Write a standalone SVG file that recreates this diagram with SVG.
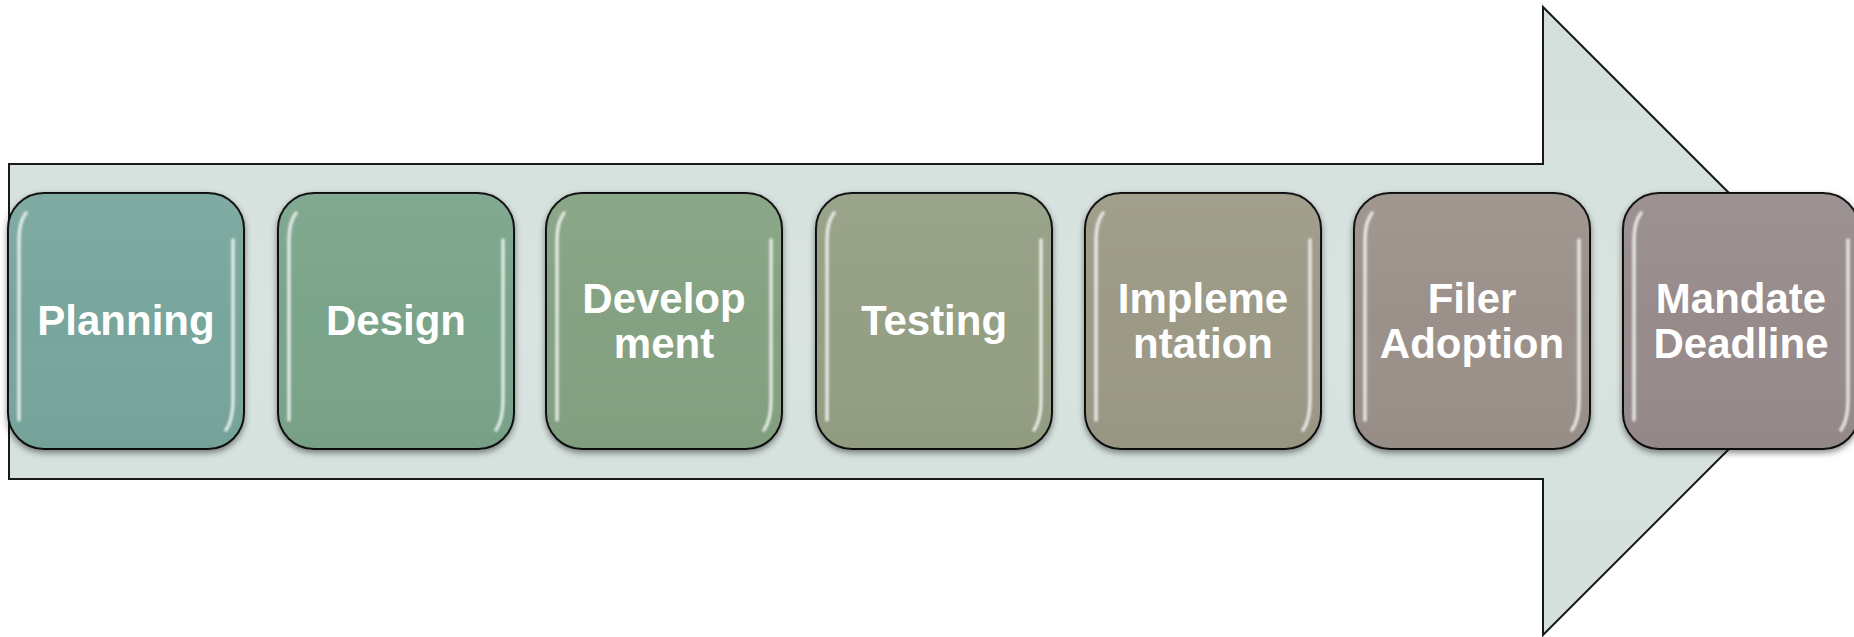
<svg xmlns="http://www.w3.org/2000/svg" width="1854" height="637" viewBox="0 0 1854 637">
  <defs>
    <linearGradient id="arrowFill" x1="0" y1="0" x2="0" y2="1">
      <stop offset="0" stop-color="#d3dfdb"/>
      <stop offset="0.5" stop-color="#d9e4e1"/>
      <stop offset="1" stop-color="#d2dfdb"/>
    </linearGradient>
    <linearGradient id="shade" x1="0" y1="0" x2="0" y2="1">
      <stop offset="0" stop-color="#ffffff" stop-opacity="0.06"/>
      <stop offset="0.5" stop-color="#ffffff" stop-opacity="0"/>
      <stop offset="1" stop-color="#000000" stop-opacity="0.03"/>
    </linearGradient>
    <filter id="drop" x="-10%" y="-10%" width="120%" height="125%">
      <feDropShadow dx="0" dy="3" stdDeviation="3" flood-color="#000" flood-opacity="0.45"/>
    </filter>
    <filter id="soft" x="-50%" y="-10%" width="200%" height="120%">
      <feGaussianBlur stdDeviation="0.8"/>
    </filter>
    <style>
      .box { stroke: #111; stroke-width: 2; filter: url(#drop); }
      .gloss { fill: url(#shade); stroke: none; }
      .hl { fill: none; stroke: #ffffff; stroke-opacity: 0.75; stroke-width: 3.5; stroke-linecap: round; filter: url(#soft); }
      .lbl { font-family: "Liberation Sans", Arial, sans-serif; font-weight: bold; font-size: 42px; fill: #ffffff; text-anchor: middle; }
    </style>
  </defs>

  <rect width="1854" height="637" fill="#ffffff"/>

  <g id="arrow">
    <path d="M9,164 H1543 V7 L1857,321 L1543,635 V479 H9 Z" fill="url(#arrowFill)" stroke="#1a1a1a" stroke-width="2"/>
  </g>

  <g id="connectors"></g>

  <g id="planning">
    <rect class="box" x="8" y="193" width="236" height="256" rx="36" fill="#78a69d"/>
    <rect class="gloss" x="8" y="193" width="236" height="256" rx="36"/>
    <path class="hl" d="M26,213 Q19,222 19,240 V420"/>
    <path class="hl" d="M233,240 V400 Q233,420 226,430"/>
    <text class="lbl" x="126" y="335">Planning</text>
  </g>

  <g id="design">
    <rect class="box" x="278" y="193" width="236" height="256" rx="36" fill="#7aa48a"/>
    <rect class="gloss" x="278" y="193" width="236" height="256" rx="36"/>
    <path class="hl" d="M296,213 Q289,222 289,240 V420"/>
    <path class="hl" d="M503,240 V400 Q503,420 496,430"/>
    <text class="lbl" x="396" y="335">Design</text>
  </g>

  <g id="development">
    <rect class="box" x="546" y="193" width="236" height="256" rx="36" fill="#84a282"/>
    <rect class="gloss" x="546" y="193" width="236" height="256" rx="36"/>
    <path class="hl" d="M564,213 Q557,222 557,240 V420"/>
    <path class="hl" d="M771,240 V400 Q771,420 764,430"/>
    <text class="lbl" x="664" y="313">Develop</text>
    <text class="lbl" x="664" y="358">ment</text>
  </g>

  <g id="testing">
    <rect class="box" x="816" y="193" width="236" height="256" rx="36" fill="#949f84"/>
    <rect class="gloss" x="816" y="193" width="236" height="256" rx="36"/>
    <path class="hl" d="M834,213 Q827,222 827,240 V420"/>
    <path class="hl" d="M1041,240 V400 Q1041,420 1034,430"/>
    <text class="lbl" x="934" y="335">Testing</text>
  </g>

  <g id="implementation">
    <rect class="box" x="1085" y="193" width="236" height="256" rx="36" fill="#9c9a86"/>
    <rect class="gloss" x="1085" y="193" width="236" height="256" rx="36"/>
    <path class="hl" d="M1103,213 Q1096,222 1096,240 V420"/>
    <path class="hl" d="M1310,240 V400 Q1310,420 1303,430"/>
    <text class="lbl" x="1203" y="313">Impleme</text>
    <text class="lbl" x="1203" y="358">ntation</text>
  </g>

  <g id="filer-adoption">
    <rect class="box" x="1354" y="193" width="236" height="256" rx="36" fill="#9b918a"/>
    <rect class="gloss" x="1354" y="193" width="236" height="256" rx="36"/>
    <path class="hl" d="M1372,213 Q1365,222 1365,240 V420"/>
    <path class="hl" d="M1579,240 V400 Q1579,420 1572,430"/>
    <text class="lbl" x="1472" y="313">Filer</text>
    <text class="lbl" x="1472" y="358">Adoption</text>
  </g>

  <g id="mandate-deadline">
    <rect class="box" x="1623" y="193" width="236" height="256" rx="36" fill="#978b8b"/>
    <rect class="gloss" x="1623" y="193" width="236" height="256" rx="36"/>
    <path class="hl" d="M1641,213 Q1634,222 1634,240 V420"/>
    <path class="hl" d="M1848,240 V400 Q1848,420 1841,430"/>
    <text class="lbl" x="1741" y="313">Mandate</text>
    <text class="lbl" x="1741" y="358">Deadline</text>
  </g>
</svg>
